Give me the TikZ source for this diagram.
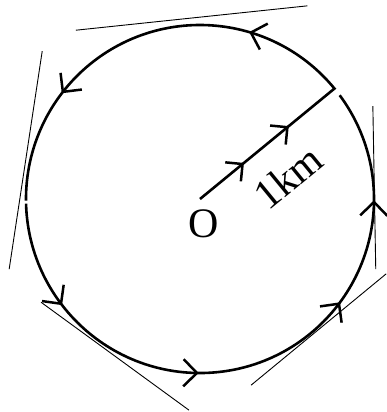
\documentclass[tikz,border=0pt]{standalone}
\usepackage{fontspec}
\setmainfont{Liberation Serif}

\begin{document}
\begin{tikzpicture}[x=58pt,y=58pt,
  thickline/.style={line width=2.6pt},
  thinline/.style={line width=0.9pt},
  chev/.style={line width=2.5pt},
  lbl/.style={font=\fontsize{42}{48}\selectfont, inner sep=0pt}]
\useasboundingbox (-3.448,-3.672) rectangle (3.207,3.431);
\coordinate (O) at (0,0) ;
\coordinate (P) at (39.4:3) ;
\coordinate (A) at (-2.14,2.91) ;
\coordinate (B) at (1.85,3.33) ;
\coordinate (C) at (-2.72,2.55) ;
\coordinate (D) at (-3.29,-1.21) ;
\coordinate (E) at (2.98,1.60) ;
\coordinate (F) at (3.03,-1.21) ;
\coordinate (G) at (3.21,-1.29) ;
\coordinate (H) at (0.88,-3.21) ;
\coordinate (I) at (-2.74,-1.78) ;
\coordinate (J) at (-0.19,-3.64) ;
% tangent lines
\draw[thinline] (A) -- (B) ;
\draw[thinline] (C) -- (D) ;
\draw[thinline] (E) -- (F) ;
\draw[thinline] (G) -- (H) ;
\draw[thinline] (I) -- (J) ;
% path
\draw[thickline] (O) -- (P) arc (39.4:180.5:3) ;
\draw[thickline] (181.5:3) arc (181.5:396.6:3) ;
\foreach \a in {73,142,217,269,323,359}
  \draw[chev] (\a:3) ++(\a-45:.33) -- (\a:3) -- ++(\a-135:.33) ;
\foreach \r in {0.95,1.95}
  \draw[chev] (39.4:\r) ++(174.4:.3) -- (39.4:\r) -- ++(264.4:.3) ;
\node[lbl] (o) at (0.069,-0.422) {O};
\node[lbl, rotate=39.4] (km) at (1.517,0.379) {1km};
\end{tikzpicture}
\end{document}
